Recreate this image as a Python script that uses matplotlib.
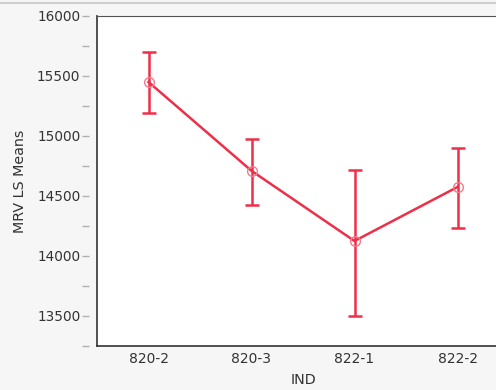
import matplotlib.pyplot as plt
from matplotlib.lines import Line2D

plt.rcParams.update({"font.family": "DejaVu Sans"})

groups = ["820-2", "820-3", "822-1", "822-2"]
means = [15450, 14710, 14125, 14575]
upper = [15700, 14975, 14717, 14900]
lower = [15195, 14425, 13500, 14235]

red = "#ee2f48"

fig = plt.figure(figsize=(4.96, 3.90), dpi=100, facecolor="#f6f6f6")
ax = fig.add_axes([97 / 496, 44 / 390, 412 / 496, 330 / 390])
ax.set_facecolor("white")

x = list(range(len(groups)))
err = [[m - lo for m, lo in zip(means, lower)], [u - m for m, u in zip(means, upper)]]
ax.errorbar(x, means, yerr=err, fmt="none", ecolor=red, elinewidth=1.8,
            capsize=5, capthick=1.8, zorder=2)
ax.plot(x, means, color=red, lw=1.8, zorder=3)
ax.plot(x, means, "o", ms=7, mfc="none", mec="#f27a8b", mew=1.0, zorder=4)

ax.set_xlim(-0.5, 3.5)
ax.set_ylim(13250, 16000)
ax.set_yticks([13500, 14000, 14500, 15000, 15500, 16000])
ax.set_yticks([13250, 13750, 14250, 14750, 15250, 15750], minor=True)
ax.set_xticks(x)
ax.set_xticklabels(groups)

for s in ["top", "right"]:
    ax.spines[s].set_visible(False)
ax.spines["left"].set_position(("outward", 6))
ax.spines["left"].set_visible(False)
ax.spines["bottom"].set_color("#333333")
ax.spines["bottom"].set_linewidth(1.2)
# visible left border of plot area
ax.add_line(Line2D([0, 0], [0, 1], transform=ax.transAxes, color="#333333",
                   lw=1.2, clip_on=False))
ax.add_line(Line2D([0, 1], [1, 1], transform=ax.transAxes, color="#555555",
                   lw=0.8, clip_on=False))

ax.tick_params(axis="y", which="major", length=5, width=1, color="#b0b0b0",
               labelsize=9.8, labelcolor="#333333", pad=1)
ax.tick_params(axis="y", which="minor", length=5, width=1, color="#b0b0b0")
ax.tick_params(axis="x", length=0, labelsize=10, labelcolor="#333333", pad=4)

ax.set_ylabel("MRV LS Means", fontsize=10.3, color="#333333", labelpad=7)
ax.set_xlabel("IND", fontsize=10.3, color="#333333", labelpad=5)

fig.add_artist(Line2D([0, 1], [1 - 3 / 390, 1 - 3 / 390], transform=fig.transFigure,
                      color="#cfcfcf", lw=1.5))

fig.savefig("out.png", dpi=100, facecolor=fig.get_facecolor())
